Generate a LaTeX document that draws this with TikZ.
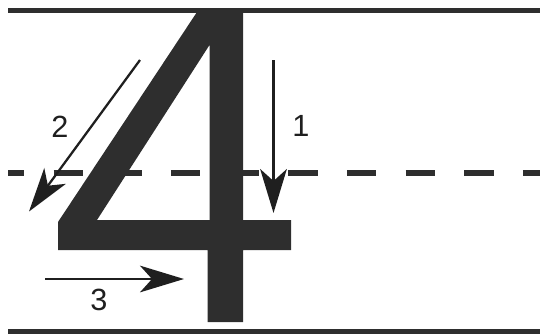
\documentclass[tikz,border=0pt]{standalone}
\usepackage{fontspec}
\setmainfont{Liberation Sans}
\usetikzlibrary{arrows.meta}
\definecolor{ink}{HTML}{2E2E2E}
\definecolor{pen}{HTML}{1F1F1F}

\begin{document}
\begin{tikzpicture}[x=0.75pt,y=-0.75pt,
  rule/.style={ink,line width=3.8pt},
  midrule/.style={ink,line width=4.3pt,dash pattern=on 22.1pt off 21.9pt,dash phase=9.8pt},
  stroke/.style={pen,line width=1.7pt,-{Stealth[length=33pt,width=20pt,inset=9pt]}},
  num/.style={pen,inner sep=0pt,font=\fontsize{23}{28}\selectfont}]
\useasboundingbox (0,0) rectangle (542,333);
% writing lines
\draw[rule] (8,10.5) -- (540,10.5);
\draw[rule] (8,331.5) -- (540,331.5);
\draw[midrule] (8,173) -- (540,173);
% the figure 4
\fill[ink,even odd rule] (197,12) -- (243,12) -- (243,220) -- (291,220) -- (291,250) -- (243,250)
  -- (243,322) -- (207.5,322) -- (207.5,250) -- (58,250) -- (58,222) -- cycle
  (209.5,45) -- (209.5,220) -- (97,220) -- cycle;
% strokes
\coordinate (s1) at (273.5,60);  \coordinate (e1) at (273.5,213);
\coordinate (s2) at (140,60);    \coordinate (e2) at (29,211.5);
\coordinate (s3) at (45,279);    \coordinate (e3) at (184,279);
\draw[stroke] (s1) -- (e1);
\draw[stroke] (s2) -- (e2);
\draw[stroke] (s3) -- (e3);
\node[num] (n1) at (301,126) {1};
\node[num] (n2) at (60,127) {2};
\node[num] (n3) at (99,300) {3};
\end{tikzpicture}
\end{document}
